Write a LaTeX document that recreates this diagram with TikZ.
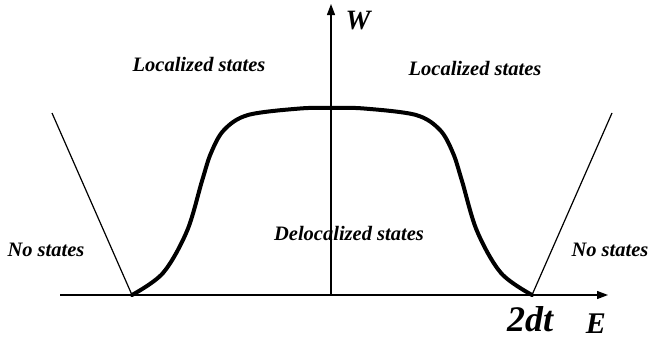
\documentclass[tikz,border=0pt]{standalone}
\usepackage{fontspec}
\setmainfont{Liberation Serif}
\usetikzlibrary{arrows.meta,positioning}

\begin{document}
\begin{tikzpicture}[x=1pt,y=-1pt,>={Triangle[length=11pt,width=8pt]},
statelabel/.style={font=\fontsize{20.5}{24}\selectfont\bfseries\itshape,inner sep=0pt,anchor=base},
axislabel/.style={font=\fontsize{30}{33}\selectfont\bfseries\itshape,inner sep=0pt,anchor=base},
axisline/.style={line width=1.3pt},
edgeline/.style={line width=1.2pt},
bandcurve/.style={line width=4pt,line join=round,line cap=round}]
\useasboundingbox (0,0) rectangle (649,340);
\coordinate (xstart) at (60,295);
\coordinate (xend) at (608,295);
\coordinate (origin) at (331,295);
\coordinate (ytop) at (331,4);
\coordinate (leftedge) at (132,295);
\coordinate (rightedge) at (532,295);
\coordinate (lefttop) at (52,113);
\coordinate (righttop) at (612,113);
% axes
\draw[axisline,->] (xstart)--(xend);
\draw[axisline,->] (origin)--(ytop);
% edges of the band
\draw[edgeline] (lefttop)--(leftedge);
\draw[edgeline] (righttop)--(rightedge);
% mobility curve
\draw[bandcurve] plot[smooth,tension=0.55] coordinates {(leftedge) (163,273) (187,231) (202,181) (211,153) (224,130) (248,115) (300,108.5) (332,108) (364,108.5) (416,115) (440,130) (453,153) (462,181) (477,231) (501,273) (rightedge)};
% labels
\node[axislabel,font=\fontsize{28}{30}\selectfont\bfseries\itshape] (wlabel) at (358,29) {W};
\node[axislabel] (elabel) at (596,333) {E};
\node[axislabel,font=\fontsize{36}{40}\selectfont\bfseries\itshape] (edgelabel) at (530,331) {2dt};
\node[statelabel] (locleft) at (199,71) {Localized states};
\node[statelabel] (locright) at (475,75) {Localized states};
\node[statelabel] (deloc) at (349,240) {Delocalized states};
\node[statelabel] (noleft) at (46,256) {No states};
\node[statelabel] (noright) at (610,256) {No states};
\end{tikzpicture}
\end{document}
